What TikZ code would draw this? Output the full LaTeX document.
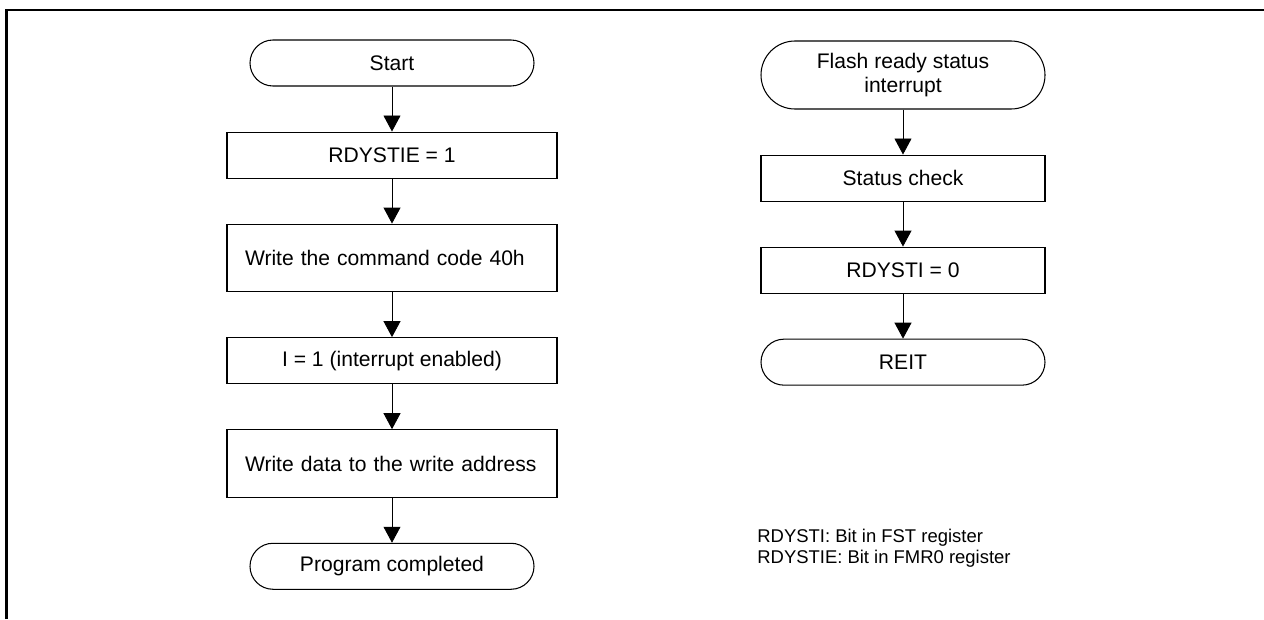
\documentclass[tikz,border=0pt]{standalone}
\usepackage{fontspec}
\setmainfont{Liberation Sans}
\usetikzlibrary{arrows.meta,positioning}

\begin{document}
\begin{tikzpicture}[
    >={Triangle[width=0.34cm,length=0.32cm]},
    node distance=0.9cm,
    term/.style={
        draw,
        line width=0.6pt,
        rounded corners=0.46cm,
        minimum width=5.68cm,
        minimum height=0.92cm,
        align=center,
        font=\fontsize{12}{13.7}\selectfont
    },
    proc/.style={
        draw,
        line width=0.6pt,
        minimum width=6.6cm,
        minimum height=0.92cm,
        align=center,
        font=\fontsize{12}{13.7}\selectfont
    },
    tallproc/.style={proc,minimum height=1.35cm,text width=5.88cm,inner xsep=0.36cm,align=left},
    flow/.style={->,line width=0.5pt}
]
\useasboundingbox (0,0) rectangle (25.28,-12.38);

% frame
\draw[line width=1.7pt] (0.13,-12.38) -- (0.13,-0.2) -- (25.28,-0.2);

% main routine
\node[term] (start) at (7.84,-1.26) {Start};
\node[proc,below=of start] (rdystie) {RDYSTIE = 1};
\node[tallproc,below=of rdystie] (cmd) {Write the command code 40h};
\node[proc,below=of cmd] (ienable) {I = 1 (interrupt enabled)};
\node[tallproc,below=of ienable] (wdata) {Write data to the write address};
\node[term,below=of wdata] (done) {Program completed};

\draw[flow] (start) -- (rdystie);
\draw[flow] (rdystie) -- (cmd);
\draw[flow] (cmd) -- (ienable);
\draw[flow] (ienable) -- (wdata);
\draw[flow] (wdata) -- (done);

% interrupt routine
\node[term,minimum height=1.36cm,rounded corners=0.68cm] (flashint) at (18.06,-1.5) {Flash ready status\\ interrupt};
\node[proc,minimum width=5.68cm,below=of flashint] (stcheck) {Status check};
\node[proc,minimum width=5.68cm,below=of stcheck] (rdysti) {RDYSTI = 0};
\node[term,below=of rdysti] (reit) {REIT};

\draw[flow] (flashint) -- (stcheck);
\draw[flow] (stcheck) -- (rdysti);
\draw[flow] (rdysti) -- (reit);

\node[anchor=base west,align=left,inner sep=0pt,font=\fontsize{10.5}{11.9}\selectfont] (notes) at (15.14,-11.26)
    {RDYSTI: Bit in FST register\\ RDYSTIE: Bit in FMR0 register};

\end{tikzpicture}
\end{document}
